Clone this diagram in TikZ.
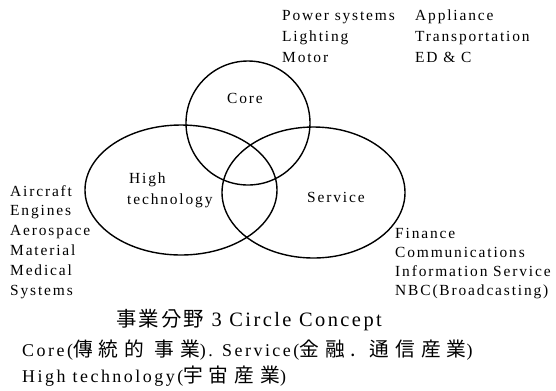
\documentclass[tikz,border=0pt]{standalone}
\usepackage{fontspec}
\setmainfont{Liberation Serif}[LetterSpace=12]
\newfontfamily\botfont{Liberation Serif}[LetterSpace=14]
\newfontfamily\titlefont{Liberation Serif}[LetterSpace=12]
\newfontfamily\cjk{Noto Sans CJK KR}[Scale=1.1,LetterSpace=30]
\newfontfamily\cjktitle{Noto Sans CJK KR}[LetterSpace=10]
\begin{document}
\begin{tikzpicture}[x=1bp,y=-1bp,
  lab/.style={inner sep=0pt,anchor=base west,font=\fontsize{15.5}{18}\selectfont},
  mid/.style={inner sep=0pt,anchor=base,font=\fontsize{15.5}{18}\selectfont},
  bot/.style={inner sep=0pt,anchor=base west,font=\fontsize{18}{21}\botfont},
  ring/.style={line width=1.4bp}]
\useasboundingbox (0,0) rectangle (556,390);
% circles
\draw[ring] (248,123) circle[radius=62];
\draw[ring] (181,190) ellipse[x radius=96,y radius=65];
\draw[ring] (313.5,192.5) ellipse[x radius=91.5,y radius=65.5];
% labels in circles
\node[mid] (core) at (245,103) {Core};
\node[lab] (high) at (129,183) {High};
\node[lab] (tech) at (127,204) {technology};
\node[lab] (serv) at (307,202) {Service};
% top right
\node[lab] (p1) at (282,20) {Power systems};
\node[lab] (p2) at (282,41) {Lighting};
\node[lab] (p3) at (282,62) {Motor};
\node[lab] (a1) at (415,20) {Appliance};
\node[lab] (a2) at (415,41) {Transportation};
\node[lab] (a3) at (415,62) {ED \& C};
% left
\node[lab] (l1) at (10,196) {Aircraft};
\node[lab] (l2) at (10,215.8) {Engines};
\node[lab] (l3) at (10,235.6) {Aerospace};
\node[lab] (l4) at (10,255.4) {Material};
\node[lab] (l5) at (10,275.2) {Medical};
\node[lab] (l6) at (10,295) {Systems};
% right bottom
\node[lab] (r1) at (395,238) {Finance};
\node[lab] (r2) at (395,257) {Communications};
\node[lab] (r3) at (395,276) {Information Service};
\node[lab] (r4) at (395,295) {NBC(Broadcasting)};
% bottom
\node[inner sep=0pt,anchor=base west,font=\fontsize{20.5}{23}\titlefont] (title) at (116,326) {{\cjktitle 事業分野} 3 Circle Concept};
\node[bot] (c1) at (22,356) {Core({\cjk 傳統的 事業}). Service({\cjk 金融. 通信産業})};
\node[bot] (c2) at (22,382) {High technology({\cjk 宇宙産業})};
\end{tikzpicture}
\end{document}
